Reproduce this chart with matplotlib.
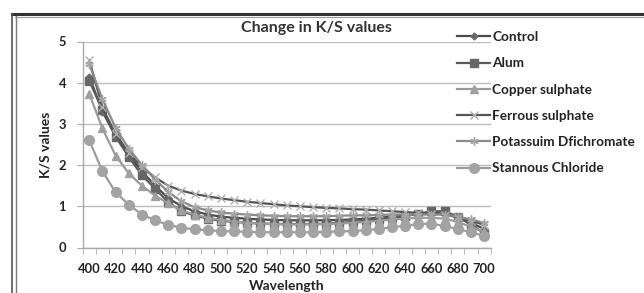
import matplotlib
matplotlib.use("Agg")
import matplotlib.pyplot as plt
from matplotlib.lines import Line2D
import numpy as np

plt.rcParams['font.family'] = ['Lato', 'DejaVu Sans']

wavelength = list(range(400, 701, 10))

control = [4.15, 3.30, 2.70, 2.25, 1.85, 1.50, 1.20, 1.00, 0.88, 0.80, 0.75, 0.72, 0.70, 0.68, 0.67, 0.66,
           0.66, 0.66, 0.66, 0.67, 0.68, 0.70, 0.72, 0.75, 0.78, 0.82, 0.85, 0.82, 0.72, 0.60, 0.45]
alum = [4.05, 3.33, 2.69, 2.20, 1.75, 1.43, 1.10, 0.88, 0.78, 0.70, 0.65, 0.62, 0.60, 0.58, 0.57, 0.57,
        0.57, 0.57, 0.58, 0.60, 0.62, 0.65, 0.68, 0.72, 0.76, 0.82, 0.88, 0.88, 0.75, 0.55, 0.35]
copper = [3.73, 2.89, 2.23, 1.80, 1.50, 1.26, 1.07, 0.90, 0.80, 0.72, 0.67, 0.63, 0.60, 0.58, 0.57, 0.56,
          0.56, 0.56, 0.57, 0.58, 0.60, 0.62, 0.65, 0.68, 0.70, 0.72, 0.72, 0.70, 0.62, 0.50, 0.38]
ferrous = [4.55, 3.40, 2.75, 2.30, 1.95, 1.70, 1.50, 1.38, 1.30, 1.24, 1.19, 1.15, 1.11, 1.08, 1.05, 1.02,
           1.00, 0.98, 0.96, 0.95, 0.93, 0.92, 0.90, 0.88, 0.86, 0.84, 0.82, 0.80, 0.75, 0.65, 0.55]
potassium = [4.45, 3.60, 2.90, 2.40, 2.00, 1.65, 1.35, 1.12, 0.98, 0.90, 0.85, 0.82, 0.80, 0.78, 0.77, 0.76,
             0.76, 0.76, 0.76, 0.77, 0.78, 0.78, 0.79, 0.80, 0.80, 0.80, 0.80, 0.80, 0.75, 0.68, 0.60]
stannous = [2.60, 1.85, 1.34, 1.04, 0.80, 0.66, 0.55, 0.48, 0.44, 0.42, 0.40, 0.39, 0.38, 0.37, 0.37, 0.37,
            0.37, 0.37, 0.38, 0.39, 0.40, 0.42, 0.45, 0.49, 0.53, 0.57, 0.58, 0.52, 0.45, 0.37, 0.28]

labels = ["Control", "Alum", "Copper sulphate", "Ferrous sulphate", "Potassuim Dfichromate", "Stannous Chloride"]
series = [control, alum, copper, ferrous, potassium, stannous]
styles = [
    dict(color="#4a4a4a", marker="D", ms=3.5, mfc="#6a6a6a", mec="#6a6a6a", lw=1.6),
    dict(color="#5a5a5a", marker="s", ms=5.5, mfc="#666666", mec="#666666", lw=1.6),
    dict(color="#9a9a9a", marker="^", ms=6, mfc="#a0a0a0", mec="#a0a0a0", lw=1.6),
    dict(color="#555555", marker="x", ms=6, mfc="#b0b0b0", mec="#b0b0b0", lw=1.6, mew=1.0),
    dict(color="#8a8a8a", marker=(6, 2, 0), ms=6, mfc="#a5a5a5", mec="#a5a5a5", lw=1.6, mew=1.0),
    dict(color="#9c9c9c", marker="o", ms=7, mfc="#a3a3a3", mec="#a3a3a3", lw=1.6),
]

fig = plt.figure(figsize=(6.44, 2.93), dpi=100)
ax_bottom_px, ax_top_px = 247.5, 41.5
ax = fig.add_axes([82.7/644, 1-ax_bottom_px/293, (490.7-82.7)/644, (ax_bottom_px-ax_top_px)/293])

handles = []
for y, lab, st in zip(series, labels, styles):
    h, = ax.plot(wavelength, y, label=lab, **st)
    handles.append(h)

ax.set_xlim(395, 705)
ax.set_ylim(0, 5)
ax.set_yticks([0, 1, 2, 3, 4, 5])
ax.set_xticks(list(range(400, 701, 20)))
ax.set_xticks(list(range(395, 706, 10)), minor=True)
ax.tick_params(axis='x', which='major', length=0, pad=11, labelsize=9.3)
ax.tick_params(axis='x', which='minor', length=4, color="#aaaaaa", direction='out')
ax.tick_params(axis='y', length=4, color="#aaaaaa", direction='out', labelsize=9.3, pad=8)
for lbl in ax.get_xticklabels() + ax.get_yticklabels():
    lbl.set_fontweight('bold')
    lbl.set_color('#222222')
ax.grid(axis='y', color="#bdbdbd", lw=1.0)
ax.set_axisbelow(True)
for s in ['top', 'right']:
    ax.spines[s].set_visible(False)
for s in ['left', 'bottom']:
    ax.spines[s].set_color("#aaaaaa")
    ax.spines[s].set_linewidth(1.0)

ax.set_xlabel("Wavelength", fontsize=10, fontweight='bold', color='#222222')
ax.xaxis.label.set_va('center')
ax.xaxis.set_label_coords(0.5, (ax_bottom_px - 285.5) / (ax_bottom_px - ax_top_px))
ax.set_ylabel("K/S values", fontsize=10, fontweight='bold', labelpad=5, color='#222222')
fig.text(316/644, 1-28/293, "Change in K/S values", ha='center', va='center',
         fontsize=11.5, fontweight='bold', color='#333333')

leg = fig.legend(handles=handles, labels=labels, loc='upper left',
                 bbox_to_anchor=(457/644, 1-31/293), frameon=False,
                 fontsize=9.8, handlelength=2.45, handletextpad=0.15,
                 labelspacing=1.05, borderaxespad=0, borderpad=0)
for t in leg.get_texts():
    t.set_fontweight('bold')
    t.set_color('#222222')

# outer chart frame
W, H = 644, 293
def fl(x0, y0, x1, y1, lw, c):
    fig.add_artist(Line2D([x0/W, x1/W], [1-y0/H, 1-y1/H], lw=lw, color=c, transform=fig.transFigure))
fl(12, 14, 644, 14, 2.2, "#333333")
fl(12, 14, 12, 293, 1.2, "#555555")
fl(15.5, 16, 15.5, 293, 1.0, "#777777")
fl(15, 16.5, 644, 16.5, 0.8, "#999999")

fig.savefig("out.png", dpi=100)
